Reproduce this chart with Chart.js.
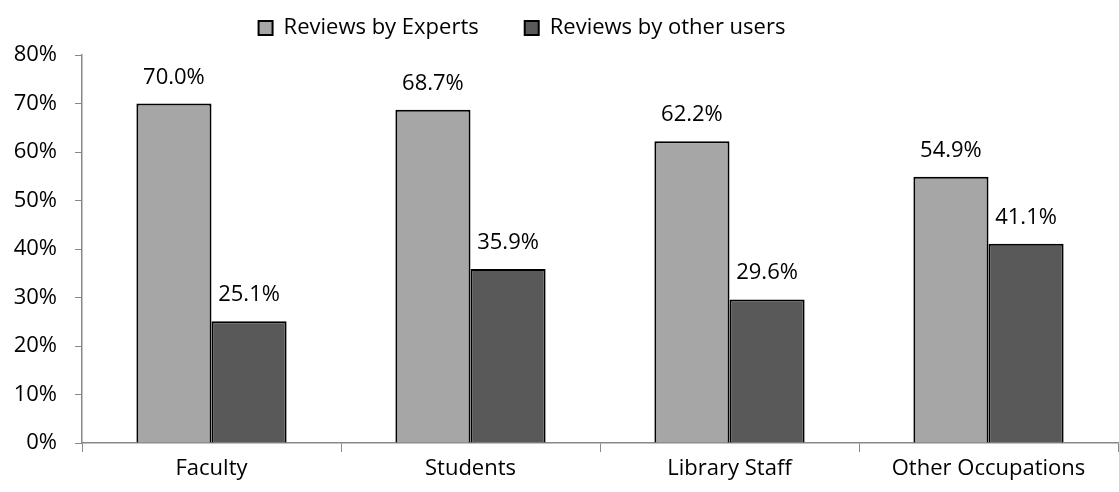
<!DOCTYPE html>
<html>
<head>
<meta charset="utf-8">
<script src="https://cdn.jsdelivr.net/npm/chart.js@4.4.1/dist/chart.umd.min.js"></script>
<style>
  html, body { margin: 0; padding: 0; background: #fff; }
  #wrap { width: 1119px; height: 492px; }
</style>
</head>
<body>
<div id="wrap"><canvas id="grafico"></canvas></div>
<script>
// categorias y valores (porcentajes)
const categorias = ['Faculty', 'Students', 'Library Staff', 'Other Occupations'];
const expertos = [70.0, 68.7, 62.2, 54.9];
const otrosUsuarios = [25.1, 35.9, 29.6, 41.1];
const ticksY = [0, 10, 20, 30, 40, 50, 60, 70, 80];

const fuente = { family: 'Open Sans', size: 22 };
const espacioLeyenda = 46;   // separacion entre los dos items de la leyenda

// etiquetas de valor encima de cada barra
const etiquetasValor = {
    id: 'etiquetasValor',
    afterDatasetsDraw(chart) {
        const ctx = chart.ctx;
        ctx.save();
        ctx.font = '22px "Open Sans"';
        ctx.fillStyle = '#000';
        ctx.textAlign = 'center';
        ctx.textBaseline = 'alphabetic';
        chart.data.datasets.forEach((ds, i) => {
            chart.getDatasetMeta(i).data.forEach((bar, j) => {
                ctx.fillText(ds.data[j].toFixed(1) + '%', bar.x, bar.y - 20);
            });
        });
        ctx.restore();
    }
};

// la leyenda: altura fija y un poco a la izquierda del centro
const ajustarLeyenda = {
    id: 'ajustarLeyenda',
    beforeLayout(chart) {
        const leg = chart.legend;
        if (leg && !leg._fijada) {
            const fitOriginal = leg.fit.bind(leg);
            leg.fit = function () {
                fitOriginal();
                this.height = 55;
            };
            leg._fijada = true;
        }
    },
    afterLayout(chart) {
        const leg = chart.legend;
        leg.left -= 37;
        leg.right -= 37;
        leg.top = 28 - espacioLeyenda - 11;
        leg.bottom = leg.top + 120;
    }
};

new Chart(document.getElementById('grafico'), {
    type: 'bar',
    data: {
        labels: categorias,
        datasets: [
            {
                label: 'Reviews by Experts',
                data: expertos,
                backgroundColor: '#a6a6a6',
                borderColor: '#000',
                borderWidth: 2,
                barPercentage: 1,
                categoryPercentage: 0.58
            },
            {
                label: 'Reviews by other users',
                data: otrosUsuarios,
                backgroundColor: '#595959',
                borderColor: '#000',
                borderWidth: 2,
                barPercentage: 1,
                categoryPercentage: 0.58
            }
        ]
    },
    options: {
        responsive: true,
        maintainAspectRatio: false,
        animation: false,
        layout: { padding: { top: 0, right: 1 } },
        plugins: {
            legend: {
                position: 'top',
                labels: {
                    font: fuente,
                    color: '#000',
                    boxWidth: 14,
                    boxHeight: 14,
                    padding: espacioLeyenda
                }
            },
            tooltip: { enabled: false }
        },
        scales: {
            x: {
                grid: {
                    offset: true,
                    drawOnChartArea: false,
                    drawTicks: true,
                    tickLength: 9,
                    color: '#888'
                },
                border: { color: '#888', width: 1.5 },
                ticks: { font: fuente, color: '#000', padding: 4 },
                afterFit(scale) { scale.height = 49; }
            },
            y: {
                min: 0,
                max: 80,
                afterBuildTicks(scale) {
                    scale.ticks = ticksY.map(v => ({ value: v }));
                },
                grid: {
                    drawOnChartArea: false,
                    drawTicks: true,
                    tickLength: 7,
                    color: '#888'
                },
                border: { color: '#888', width: 1.5 },
                ticks: {
                    font: fuente,
                    color: '#000',
                    padding: 18,
                    callback: v => v + '%'
                },
                afterFit(scale) { scale.width = 82; }
            }
        }
    },
    plugins: [etiquetasValor, ajustarLeyenda]
});
</script>
</body>
</html>
